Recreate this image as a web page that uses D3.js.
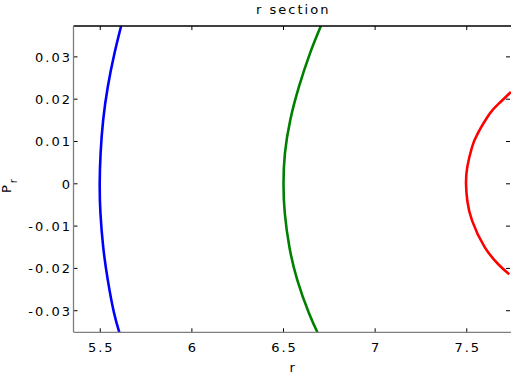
<!DOCTYPE html>
<html>
<head>
<meta charset="utf-8">
<style>
body { margin: 0; background: #fff; }
svg { display: block; }
text {
  font-family: "DejaVu Sans", sans-serif;
  font-size: 13px;
  letter-spacing: 2px;
  fill: #000;
}
.frame-gray { stroke: #7f7f7f; stroke-width: 1.3; }
.frame-top { stroke: #000; stroke-width: 1.3; }
.tick { stroke: #000; stroke-width: 1; }
.curve { fill: none; stroke-width: 2.6; }
</style>
</head>
<body>
<svg width="512" height="374"></svg>
<script src="https://d3js.org/d3.v7.min.js"></script>
<script>

// tick values
var xTicks = [5.5, 6, 6.5, 7, 7.5]
var yTicks = [-0.03, -0.02, -0.01, 0, 0.01, 0.02, 0.03]
var yTickLabels = ["-0.03", "-0.02", "-0.01", "0", "0.01", "0.02", "0.03"]

// curves (r, P_r)
var blueR = [5.614, 5.578, 5.541, 5.516, 5.502, 5.497, 5.501, 5.516, 5.541, 5.575, 5.604]
var blueP = [0.0373, 0.0309, 0.0229, 0.0151, 0.0073, 0, -0.0069, -0.0149, -0.0227, -0.0305, -0.0351]

var greenR = [6.704, 6.645, 6.584, 6.537, 6.508, 6.500, 6.507, 6.532, 6.575, 6.638, 6.685]
var greenP = [0.0373, 0.0309, 0.0229, 0.0151, 0.0073, 0, -0.0069, -0.0149, -0.0227, -0.0305, -0.0351]

var redR = [7.741, 7.676, 7.626, 7.561, 7.529, 7.503, 7.496, 7.503, 7.529, 7.597, 7.676, 7.732]
var redP = [0.0217, 0.0190, 0.0166, 0.0120, 0.0087, 0.0040, 0, -0.0040, -0.0087, -0.0149, -0.0192, -0.0214]

var series = [
  {r: blueR, p: blueP, color: "#0000ff"},
  {r: greenR, p: greenP, color: "#008000"},
  {r: redR, p: redP, color: "#ff0000"}
]

var svg = d3.select("svg")
var pLeft = 73.5, pRight = 511, pTop = 26, pBottom = 332.3

var x = d3.scaleLinear().domain([5.354, 7.736]).range([pLeft, pRight - 1])
var y = d3.scaleLinear().domain([-0.0351, 0.0373]).range([pBottom, pTop])

svg.append("clipPath").attr("id", "plotclip")
  .append("rect")
  .attr("x", pLeft).attr("y", pTop)
  .attr("width", pRight - pLeft).attr("height", pBottom - pTop)

// ticks, inward
var tk = svg.append("g")
xTicks.forEach(function(v) {
  tk.append("line").attr("class", "tick")
    .attr("x1", x(v)).attr("x2", x(v)).attr("y1", pBottom).attr("y2", pBottom - 4)
  tk.append("line").attr("class", "tick")
    .attr("x1", x(v)).attr("x2", x(v)).attr("y1", pTop).attr("y2", pTop + 4)
})
yTicks.forEach(function(v) {
  tk.append("line").attr("class", "tick")
    .attr("x1", pLeft).attr("x2", pLeft + 4).attr("y1", y(v)).attr("y2", y(v))
  tk.append("line").attr("class", "tick")
    .attr("x1", pRight - 1).attr("x2", pRight - 5).attr("y1", y(v)).attr("y2", y(v))
})

// curves
var line = d3.line()
  .x(function(d) { return x(d[0]) })
  .y(function(d) { return y(d[1]) })
  .curve(d3.curveNatural)

svg.append("g").attr("clip-path", "url(#plotclip)")
  .selectAll("path")
  .data(series)
  .enter().append("path")
  .attr("class", "curve")
  .attr("stroke", function(d) { return d.color })
  .attr("d", function(d) { return line(d.r.map(function(v, i) { return [v, d.p[i]] })) })

// frame
svg.append("line").attr("class", "frame-top")
  .attr("x1", pLeft).attr("x2", pRight).attr("y1", pTop).attr("y2", pTop)
svg.append("line").attr("class", "frame-gray")
  .attr("x1", pLeft).attr("x2", pLeft).attr("y1", pTop).attr("y2", pBottom)
svg.append("line").attr("class", "frame-gray")
  .attr("x1", pLeft).attr("x2", pRight).attr("y1", pBottom).attr("y2", pBottom)

// tick labels
svg.append("g").selectAll("text")
  .data(xTicks).enter().append("text")
  .attr("x", function(d) { return x(d) + 1 })
  .attr("y", 352)
  .attr("text-anchor", "middle")
  .text(function(d) { return d })

svg.append("g").selectAll("text")
  .data(yTicks).enter().append("text")
  .attr("x", 72)
  .attr("y", function(d) { return y(d) + 5 })
  .attr("text-anchor", "end")
  .text(function(d, i) { return yTickLabels[i] })

// title and axis labels
svg.append("text")
  .attr("x", (pLeft + pRight) / 2 + 1).attr("y", 14)
  .attr("text-anchor", "middle")
  .text("r section")

svg.append("text")
  .attr("x", (pLeft + pRight) / 2 + 1).attr("y", 372)
  .attr("text-anchor", "middle")
  .text("r")

var yl = svg.append("text")
  .attr("transform", "translate(11,185) rotate(-90)")
  .attr("text-anchor", "middle")
yl.append("tspan").text("P")
yl.append("tspan").attr("dy", 6).attr("font-size", "10px").text("r")

</script>
</body>
</html>
